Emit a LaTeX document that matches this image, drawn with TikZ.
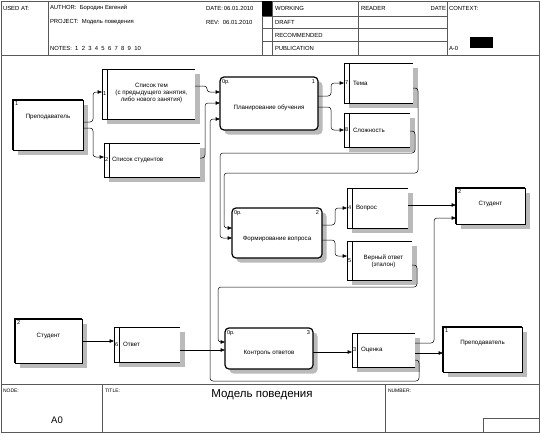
\documentclass[tikz,border=0pt]{standalone}
\usepackage{fontspec}
\setmainfont{Liberation Sans}
\usetikzlibrary{calc,arrows.meta}
% data store: name, top left corner, width:height, number
\def\datastore(#1)(#2)[#3:#4]#5{%
	\fill[shadefill] ($(#2)+(4.5,4.5)$) rectangle ++(#3,#4);
	\node[storebox, minimum width=#3, minimum height=#4] (#1) at (#2) {};
	\draw[storeline] (#1.north east) -- (#1.north west) -- (#1.south west) -- (#1.south east);
	\draw[storeline] ($(#1.north west)+(5,0)$) -- ($(#1.south west)+(5,0)$);
	\node[numtxt] (#1-n) at ($(#1.west)+(2.6,0)$) {#5};}
% external entity: name, top left corner, width:height, number
\def\extern(#1)(#2)[#3:#4]#5{%
	\fill[shadefill] ($(#2)+(4.5,4.5)$) rectangle ++(#3,#4);
	\node[entbox, minimum width=#3, minimum height=#4] (#1) at (#2) {};
	\draw[line width=2pt] (#1.south west) -- (#1.north west) -- (#1.north east);
	\node[numtxt, anchor=north west] (#1-n) at ($(#1.north west)+(2,2)$) {#5};}
% process: name, top left corner, width:height, number
\def\process(#1)(#2)[#3:#4]#5{%
	\fill[shadefill, rounded corners=4pt] ($(#2)+(4.5,4.5)$) rectangle ++(#3,#4);
	\node[procbox, minimum width=#3, minimum height=#4] (#1) at (#2) {};
	\node[numtxt, anchor=north west] (#1-o) at ($(#1.north west)+(2,3)$) {0р.};
	\node[numtxt, anchor=north east] (#1-n) at ($(#1.north east)+(-3,3)$) {#5};}

\tikzset{
	every node/.style={font=\fontsize{6.2}{7.4}\selectfont, inner sep=0pt, outer sep=0pt},
	numtxt/.style={font=\fontsize{5.6}{6}\selectfont},
	hdtxt/.style={anchor=west, font=\fontsize{5.9}{7}\selectfont},
	shadefill/.style={fill=black!27},
	entbox/.style={draw, line width=0.9pt, fill=white, anchor=north west},
	procbox/.style={draw, line width=1.2pt, rounded corners=4pt, fill=white, anchor=north west},
	storebox/.style={fill=white, anchor=north west},
	storeline/.style={line width=0.8pt},
	flow/.style={line width=0.5pt, rounded corners=3pt, -{Triangle[length=4.5pt,width=3.5pt]}},
	grid/.style={line width=0.5pt, draw=black!65},
}

\begin{document}
\begin{tikzpicture}[x=1pt, y=-1pt]
	\useasboundingbox (0,0) rectangle (540,434);
	%%%%% FRAME %%%%%
	\draw[grid, line width=0.7pt] (1,1) rectangle (539,432);
	\draw[grid] (1,55) -- (539,55);
	\draw[grid] (1,384) -- (539,384);
	\draw[grid] (48,1) -- (48,55);
	\draw[grid] (262,1) -- (262,55);
	\draw[grid] (272,1) -- (272,55);
	\draw[grid] (358,1) -- (358,55);
	\draw[grid] (447,1) -- (447,55);
	\draw[grid] (262,16) -- (447,16);
	\draw[grid] (262,28) -- (447,28);
	\draw[grid] (262,41) -- (447,41);
	\fill[black] (262,1) rectangle (272,16);
	\fill[black] (470,37) rectangle (493,48);
	\draw[grid] (102,384) -- (102,432);
	\draw[grid] (385,384) -- (385,432);
	\draw[grid] (483,432) |- (539,418);

	\node[hdtxt] (usedat) at (3,8) {USED AT:};
	\node[hdtxt] (author) at (50,8) {AUTHOR:\ \ Бородин Евгений};
	\node[hdtxt] (project) at (50,22) {PROJECT:\ \ Модель поведения};
	\node[hdtxt] (notes) at (50,48) {NOTES:\ \ 1\ \ 2\ \ 3\ \ 4\ \ 5\ \ 6\ \ 7\ \ 8\ \ 9\ \ 10};
	\node[hdtxt] (date) at (206,8) {DATE:\,06.01.2010};
	\node[hdtxt] (rev) at (206,22) {REV:\ \ 06.01.2010};
	\node[hdtxt] (working) at (275,8) {WORKING};
	\node[hdtxt] (draft) at (275,22) {DRAFT};
	\node[hdtxt] (recomm) at (275,35) {RECOMMENDED};
	\node[hdtxt] (public) at (275,48) {PUBLICATION};
	\node[hdtxt] (reader) at (361,8) {READER};
	\node[hdtxt, anchor=east] (rdate) at (446,8) {DATE};
	\node[hdtxt] (context) at (449,8) {CONTEXT:};
	\node[hdtxt] (aminus) at (449,48) {A-0};

	\node[hdtxt, font=\fontsize{5}{6}\selectfont] (nodelbl) at (3,391) {NODE:};
	\node[font=\fontsize{9.5}{11}\selectfont] (nodeno) at (57,420) {A0};
	\node[hdtxt, font=\fontsize{5}{6}\selectfont] (titlelbl) at (105,391) {TITLE:};
	\node[font=\fontsize{11.5}{13}\selectfont] (title) at (262,395) {Модель поведения};
	\node[hdtxt, font=\fontsize{5}{6}\selectfont] (numlbl) at (388,391) {NUMBER:};

	%%%%% BOXES %%%%%
	\extern(prep1)(13,100)[70:50]{1}
	\node (prep1-t) at ($(prep1.north)+(0,17)$) {Преподаватель};
	\datastore(tlist)(102,69)[93:50]{1}
	\node[align=center] (tlist-t) at ($(tlist.center)+(3,-1)$) {Список тем\\(с предыдущего занятия,\\либо нового занятия)};
	\datastore(slist)(104,143)[96:34]{2}
	\node[anchor=west] (slist-t) at ($(slist.west)+(8,0)$) {Список студентов};

	\process(plan)(220,77)[98:53]{1}
	\node (plan-t) at ($(plan.center)+(0,4)$) {Планирование обучения};
	\datastore(tema)(344,63)[69:40]{7}
	\node[anchor=west] (tema-t) at ($(tema.west)+(9,0)$) {Тема};
	\datastore(slozh)(344,113)[66:34]{8}
	\node[anchor=west] (slozh-t) at ($(slozh.west)+(9,0)$) {Сложность};

	\process(form)(232,208)[90:50]{2}
	\node (form-t) at ($(form.center)+(0,6)$) {Формирование вопроса};
	\datastore(vopros)(347,188)[61:40]{4}
	\node[anchor=west] (vopros-t) at ($(vopros.west)+(9,0)$) {Вопрос};
	\datastore(vernyj)(347,241)[65:39]{5}
	\node[align=center] (vernyj-t) at ($(vernyj.center)+(4,1)$) {Верный ответ\\(эталон)};
	\extern(stud1)(456,188)[69:36]{2}
	\node (stud1-t) at ($(stud1.north)+(0,16)$) {Студент};

	\extern(stud2)(15,319)[67:44]{2}
	\node (stud2-t) at ($(stud2.north)+(0,17)$) {Студент};
	\datastore(otvet)(114,327)[66:35]{6}
	\node[anchor=west] (otvet-t) at ($(otvet.west)+(9,0)$) {Ответ};
	\process(kontr)(225,328)[88:41]{3}
	\node (kontr-t) at ($(kontr.center)+(0,5)$) {Контроль ответов};
	\datastore(ocenka)(352,333)[63:34]{3}
	\node[anchor=west] (ocenka-t) at ($(ocenka.west)+(9,0)$) {Оценка};
	\extern(prep2)(443,327)[79:45]{1}
	\node (prep2-t) at ($(prep2.north)+(0,16)$) {Преподаватель};

	%%%%% ARROWS %%%%%
	\draw[flow] ($(prep1.north east)+(0,22)$) -- ++(10,0) |- ($(tlist.north west)+(0,23)$);
	\draw[flow] ($(prep1.north east)+(0,28)$) -- ++(10,0) |- ($(slist.north west)+(0,14)$);
	\draw[flow] ($(tlist.north east)+(0,17)$) -- ++(12,0) |- ($(plan.north west)+(0,15)$);
	\draw[flow] ($(slist.north east)+(0,15)$) -- ++(5,0) |- ($(plan.north west)+(0,26)$);

	\draw[flow] ($(plan.north east)+(0,19)$) -- ++(13,0) |- (tema.west);
	\draw[flow] ($(plan.north east)+(0,30)$) -- ++(13,0) |- (slozh.west);
	\draw[flow] ($(tema.north east)+(0,25)$) -- ++(5,0) |- ($(form.north west)+(-8,-35)$) |- ($(form.north west)+(0,20)$);
	\draw[flow] ($(slozh.north east)+(0,18)$) -- ++(5,0) |- ($(form.north west)+(-12,-55)$) |- ($(form.north west)+(0,30)$);

	\draw[flow] ($(form.north east)+(0,17)$) -- ++(13,0) |- (vopros.west);
	\draw[flow] ($(form.north east)+(0,32)$) -- ++(13,0) |- ($(vernyj.north west)+(0,15)$);
	\draw[flow] ($(vopros.north east)+(0,17)$) -- ($(stud1.north west)+(0,17)$);
	\draw[flow] ($(vernyj.north east)+(0,24)$) -- ++(5,0) |- ($(kontr.north west)+(-7,-41)$) |- ($(kontr.north west)+(0,14)$);

	\draw[flow] ($(stud2.north east)+(0,22)$) -- ($(otvet.north west)+(0,14)$);
	\draw[flow] ($(otvet.north east)+(0,23)$) -- ($(kontr.north west)+(0,22)$);
	\draw[flow] ($(kontr.north east)+(0,24)$) -- ($(ocenka.north west)+(0,19)$);
	\draw[flow] ($(ocenka.north east)+(0,10)$) -- ++(19,0) |- ($(stud1.north west)+(0,30)$);
	\draw[flow] ($(ocenka.north east)+(0,20)$) -- ($(prep2.north west)+(0,26)$);
	\draw[flow] ($(ocenka.north east)+(0,27)$) -- ++(4,0) |- ($(plan.north west)+(-10,304)$) |- ($(plan.north west)+(0,42)$);
\end{tikzpicture}
\end{document}
